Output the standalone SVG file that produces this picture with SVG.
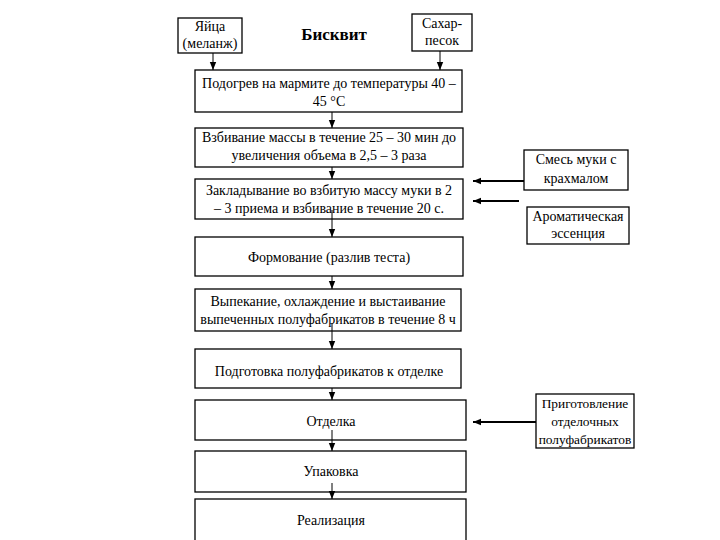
<svg xmlns="http://www.w3.org/2000/svg" width="720" height="540" viewBox="0 0 720 540">
<defs>
<style>
rect{fill:#fff;stroke:#000;stroke-width:1.3}
text{font-family:'Liberation Serif','DejaVu Serif',serif;font-size:14px;fill:#000;text-anchor:middle}
.t{font-size:17px;font-weight:bold}
.s{font-size:13.4px}
.c line{stroke:#000;stroke-width:1}
.c .h{stroke-width:2}
</style>
<marker id="a" viewBox="0 0 10 10" refX="10" refY="5" markerWidth="8" markerHeight="8" markerUnits="userSpaceOnUse" orient="auto"><path d="M0,1L10,5L0,9z" fill="#000"/></marker>
</defs>
<rect x="0" y="0" width="720" height="540" style="fill:#fff;stroke:none"/>
<g font-family="Liberation Serif, DejaVu Serif, serif">
<g id="title"><text class="t" x="334" y="40">Бисквит</text></g>
<g id="eggs"><rect x="178" y="18" width="64" height="35"/><text x="210" y="31">Яйца</text><text x="210" y="48">(меланж)</text></g>
<g id="sugar"><rect x="412" y="14" width="60" height="37"/><text x="442" y="28">Сахар-</text><text x="442" y="45">песок</text></g>
<g id="s1"><rect x="195" y="70" width="267" height="42"/><text x="329" y="88">Подогрев на мармите до температуры 40 –</text><text x="329" y="106">45 °С</text></g>
<g id="s2"><rect x="195" y="128" width="268" height="39"/><text x="329" y="142">Взбивание массы в течение 25 – 30 мин до</text><text x="329" y="160">увеличения объема в 2,5 – 3 раза</text></g>
<g id="s3"><rect x="195" y="179" width="268" height="40"/><text x="329" y="195">Закладывание во взбитую массу муки в 2</text><text x="329" y="213">– 3 приема и взбивание в течение 20 с.</text></g>
<g id="s4"><rect x="195" y="237" width="268" height="39"/><text x="329" y="262">Формование (разлив теста)</text></g>
<g id="s5"><rect x="195" y="289" width="266" height="42"/><text x="328" y="306">Выпекание, охлаждение и выстаивание</text><text x="328" y="324">выпеченных полуфабрикатов в течение 8 ч</text></g>
<g id="s6"><rect x="195" y="349" width="266" height="39"/><text x="329" y="376">Подготовка полуфабрикатов к отделке</text></g>
<g id="s7"><rect x="195" y="400" width="271" height="40"/><text x="331" y="426">Отделка</text></g>
<g id="s8"><rect x="195" y="451" width="271" height="41"/><text x="331" y="476">Упаковка</text></g>
<g id="s9"><rect x="195" y="499" width="271" height="50"/><text x="331" y="525">Реализация</text></g>
<g id="mix"><rect x="524" y="150" width="104" height="40"/><text x="576" y="164">Смесь муки с</text><text x="576" y="183">крахмалом</text></g>
<g id="aroma"><rect x="527" y="207" width="102" height="37"/><text x="578" y="221">Ароматическая</text><text x="578" y="238">эссенция</text></g>
<g id="prep"><rect x="536" y="394" width="98" height="54"/><text class="s" x="585" y="408">Приготовление</text><text class="s" x="585" y="426">отделочных</text><text class="s" x="585" y="444">полуфабрикатов</text></g>
</g>
<g class="c" id="connectors">
<line x1="213" y1="53" x2="213" y2="70" marker-end="url(#a)"/>
<line x1="440" y1="51" x2="440" y2="70" marker-end="url(#a)"/>
<line x1="332" y1="112" x2="332" y2="128" marker-end="url(#a)"/>
<line x1="332" y1="167" x2="332" y2="179" marker-end="url(#a)"/>
<line x1="332" y1="210" x2="332" y2="237" marker-end="url(#a)"/>
<line x1="332" y1="276" x2="332" y2="289" marker-end="url(#a)"/>
<line x1="332" y1="323" x2="332" y2="349" marker-end="url(#a)"/>
<line x1="332" y1="388" x2="332" y2="400" marker-end="url(#a)"/>
<line x1="332" y1="430" x2="332" y2="451" marker-end="url(#a)"/>
<line x1="332" y1="483" x2="332" y2="499" marker-end="url(#a)"/>
<line class="h" x1="524" y1="181" x2="473" y2="181" marker-end="url(#a)"/>
<line class="h" x1="519" y1="201" x2="473" y2="201" marker-end="url(#a)"/>
<line class="h" x1="536" y1="422" x2="473" y2="422" marker-end="url(#a)"/>
</g>
</svg>
